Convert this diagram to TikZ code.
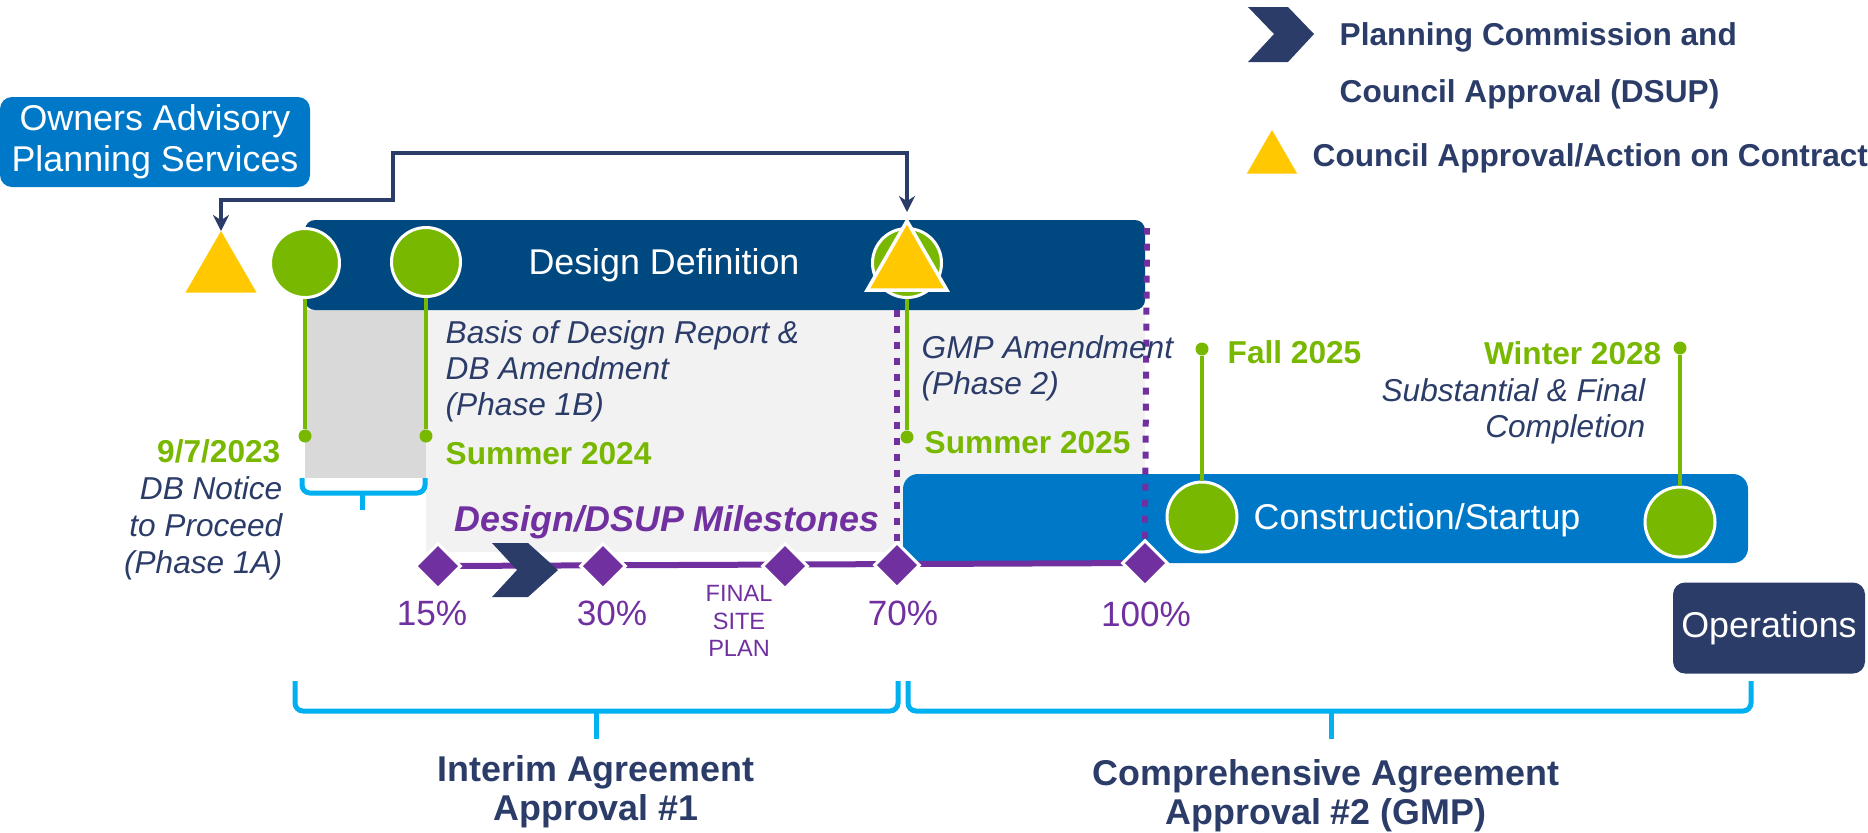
\documentclass[tikz,border=0pt]{standalone}
\usepackage{fontspec}
\setmainfont{Liberation Sans}
\usetikzlibrary{shapes.geometric,arrows.meta}
\definecolor{navy}{RGB}{43,60,105}
\definecolor{deepblue}{RGB}{0,72,128}
\definecolor{midblue}{RGB}{0,120,200}
\definecolor{leaf}{RGB}{120,184,0}
\definecolor{gold}{RGB}{255,200,0}
\definecolor{plum}{RGB}{112,48,160}
\definecolor{sky}{RGB}{0,176,240}
\definecolor{paleGray}{RGB}{242,242,242}
\definecolor{midGray}{RGB}{217,217,217}
\tikzset{
  ball/.style={circle,fill=leaf,draw=white,line width=0.3mm,minimum size=6.9mm,inner sep=0},
  pin/.style={circle,fill=leaf,inner sep=0,minimum size=1.3mm},
  stem/.style={draw=leaf,line width=0.35mm},
  council/.style={regular polygon,regular polygon sides=3,fill=gold,inner sep=0,outer sep=0,minimum size=8.2mm},
  gate/.style={diamond,fill=plum,draw=white,line width=0.3mm,inner sep=0,minimum size=4.6mm},
  plumline/.style={draw=plum,line width=0.6mm},
  plumdots/.style={draw=plum,line width=0.6mm,dash pattern=on 0.7mm off 0.9mm},
  pct/.style={text=plum,inner sep=0,font=\fontsize{10}{12}\selectfont},
  datelbl/.style={text=leaf,inner sep=0,font=\fontsize{9}{10.5}\selectfont\bfseries},
  notelbl/.style={text=navy,inner sep=0,font=\fontsize{9}{10.2}\selectfont\itshape},
  boxlbl/.style={text=white,rounded corners=1.2mm,inner sep=0,font=\fontsize{10.2}{11.7}\selectfont},
  agree/.style={text=navy,inner sep=0,align=center,font=\fontsize{10.2}{11.1}\selectfont\bfseries},
  legend/.style={text=navy,inner sep=0,anchor=west,align=left,font=\fontsize{9}{16.2}\selectfont\bfseries},
  brace/.style={draw=sky,line width=0.5mm,rounded corners=0.8mm},
  link/.style={draw=navy,line width=0.35mm,>={Stealth[length=1.6mm,width=1.6mm]},<->,shorten >=0.9mm},
}
\begin{document}
\begin{tikzpicture}[x=0.1mm,y=-0.1mm]
\useasboundingbox (0,0) rectangle (1868,832);

% phase backgrounds
\fill[paleGray] (426,310) rectangle (1145,552);
\fill[midGray] (305,310) rectangle (426,478);
\fill[deepblue,rounded corners=1mm] (305,220) rectangle (1145,310);
\fill[midblue,rounded corners=1.5mm] (903,474) rectangle (1748,563);
\node[boxlbl] (design) at (664,265) {Design Definition};
\node[boxlbl] (build) at (1417,520) {Construction/Startup};

% owners box and operations box
\node[boxlbl,fill=midblue,minimum width=31mm,minimum height=9mm,align=center] (owners) at (155,142) {Owners Advisory\\Planning Services};
\node[boxlbl,fill=navy,minimum width=19.2mm,minimum height=9.1mm] (ops) at (1769,628) {Operations};

% milestone line
\coordinate (m15) at (438,566);
\coordinate (m30) at (603,566);
\coordinate (mfin) at (785,566);
\coordinate (m70) at (897,565);
\coordinate (m100) at (1145,563);
\draw[plumline] (m15) -- (m100);
\fill[navy] (492,543) -- (528,543) -- (558,570) -- (528,597) -- (492,597) -- (517,570) -- cycle;
\node[gate] (g15) at (m15) {};
\node[gate] (g30) at (m30) {};
\node[gate] (gfin) at (mfin) {};
\node[gate] (g70) at (m70) {};
\node[gate] (g100) at (m100) {};
\coordinate (top70) at (897,310);
\coordinate (top100) at (1147,228);
\draw[plumdots] (g70.north) -- (top70);
\draw[plumdots] (g100.north) -- (top100);
\node[pct] (l15) at (432,613) {15\%};
\node[pct] (l30) at (612,613) {30\%};
\node[pct,align=center,font=\fontsize{6.7}{7.8}\selectfont] (lfin) at (739,621) {FINAL\\SITE\\PLAN};
\node[pct] (l70) at (903,613) {70\%};
\node[pct] (l100) at (1146,614) {100\%};
\node[text=plum,inner sep=0,font=\fontsize{10.2}{12}\selectfont\bfseries\itshape] (mstones) at (667,522) {Design/DSUP Milestones};

% approvals and key dates
\node[council] (tri0) at (221,272) {};
\node[ball] (b1) at (305,263) {};
\node[ball] (b2) at (426,262) {};
\node[ball] (b3) at (907,263) {};
\node[council,draw=white,line width=0.35mm,minimum size=9.2mm] (tri1) at (907,267) {};
\node[ball,minimum size=7.0mm] (b4) at (1202,517) {};
\node[ball,minimum size=7.0mm] (b5) at (1680,522) {};
\node[pin] (p1) at (305,436) {};
\node[pin] (p2) at (426,436) {};
\node[pin] (p3) at (907,437) {};
\node[pin] (p4) at (1202,349) {};
\node[pin] (p5) at (1680,348) {};
\draw[stem] (b1.south) -- (p1);
\draw[stem] (b2.south) -- (p2);
\draw[stem] (b3.south) -- (p3);
\draw[stem] (p4) -- (b4.north);
\draw[stem] (p5) -- (b5.north);
\coordinate (elbow) at (393,200);
\coordinate (ridge) at (393,153);
\draw[link] (tri0.north) |- (elbow) -- (ridge) -| (tri1.north);

\node[datelbl,anchor=east] (d0907) at (281,451) {9/7/2023};
\node[notelbl,anchor=east,align=right,font=\fontsize{9}{10.5}\selectfont\itshape] (ntp) at (283,528) {DB Notice\\to Proceed\\(Phase 1A)};
\node[datelbl,anchor=west] (su24) at (445,454) {Summer 2024};
\node[notelbl,anchor=west,align=left] (bodr) at (445,371) {Basis of Design Report \&\\DB Amendment\\(Phase 1B)};
\node[notelbl,anchor=west,align=left] (gmp) at (921,368) {GMP Amendment\\(Phase 2)};
\node[datelbl,anchor=west] (su25) at (924,443) {Summer 2025};
\node[datelbl,anchor=west] (fa25) at (1227,352) {Fall 2025};
\node[datelbl,anchor=east] (wi28) at (1662,353) {Winter 2028};
\node[notelbl,anchor=east,align=right] (subst) at (1646,411) {Substantial \& Final\\Completion};

% legend
\fill[navy] (1248,7) -- (1288,7) -- (1314,34) -- (1288,62) -- (1248,62) -- (1274,34) -- cycle;
\node[legend] (legpc) at (1339,66) {Planning Commission and\\Council Approval (DSUP)};
\node[council,minimum size=5.8mm] (legtri) at (1272,159) {};
\node[legend] (legca) at (1312,158) {Council Approval/Action on Contract};

% agreement brackets
\draw[brace] (302,478) -- (302,493) -- (425,493) -- (425,478);
\draw[brace] (362,493) -- (362,510);
\draw[brace] (295,681) -- (295,711) -- (898,711) -- (898,681);
\draw[brace] (596,711) -- (596,739);
\draw[brace] (908,681) -- (908,711) -- (1751,711) -- (1751,681);
\draw[brace] (1331,711) -- (1331,739);
\node[agree] (interim) at (596,792) {Interim Agreement\\Approval \#1};
\node[agree] (compre) at (1326,796) {Comprehensive Agreement\\Approval \#2 (GMP)};
\end{tikzpicture}
\end{document}
